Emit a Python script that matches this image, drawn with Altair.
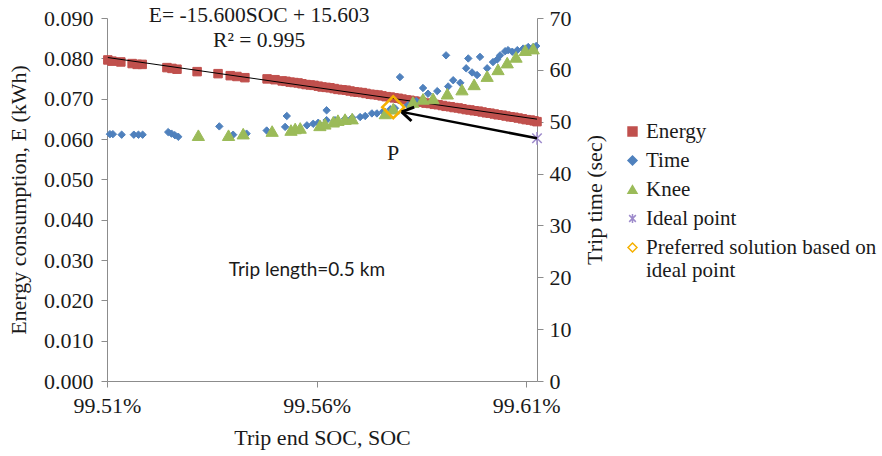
import altair as alt
import pandas as pd

# Energy consumption (kWh) of each solution against trip end SOC (%)
energy_soc = [99.5102, 99.5112, 99.5133, 99.5160, 99.5172, 99.5184, 99.5243, 99.5255,
              99.5267, 99.5315, 99.5365, 99.5394, 99.5410, 99.5429, 99.5482, 99.5501,
              99.5518, 99.5527, 99.5537, 99.5546, 99.5556, 99.5565, 99.5575, 99.5585,
              99.5594, 99.5604, 99.5613, 99.5623, 99.5632, 99.5642, 99.5651, 99.5661,
              99.5671, 99.5680, 99.5690, 99.5699, 99.5709, 99.5718, 99.5728, 99.5737,
              99.5747, 99.5756, 99.5766, 99.5776, 99.5785, 99.5795, 99.5804, 99.5814,
              99.5823, 99.5833, 99.5842, 99.5852, 99.5861, 99.5871, 99.5881, 99.5890,
              99.5900, 99.5909, 99.5919, 99.5928, 99.5938, 99.5947, 99.5957, 99.5966,
              99.5976, 99.5986, 99.5995, 99.6005, 99.6014, 99.6024, 99.6033, 99.6043,
              99.6052, 99.6062, 99.6071, 99.6081, 99.6091, 99.6100, 99.6110, 99.6119,
              99.6126]
energy_kwh = [0.0796, 0.0793, 0.0791, 0.0787, 0.0785, 0.0785, 0.0777, 0.0775,
              0.0773, 0.0767, 0.0762, 0.0757, 0.0755, 0.0752, 0.0749, 0.0747,
              0.0744, 0.0743, 0.0741, 0.0740, 0.0739, 0.0737, 0.0735, 0.0734,
              0.0733, 0.0731, 0.0729, 0.0728, 0.0727, 0.0725, 0.0723, 0.0722,
              0.0721, 0.0719, 0.0717, 0.0716, 0.0715, 0.0713, 0.0711, 0.0710,
              0.0709, 0.0707, 0.0705, 0.0704, 0.0702, 0.0701, 0.0699, 0.0697,
              0.0696, 0.0694, 0.0693, 0.0691, 0.0689, 0.0688, 0.0686, 0.0685,
              0.0683, 0.0681, 0.0680, 0.0678, 0.0677, 0.0675, 0.0673, 0.0672,
              0.0670, 0.0669, 0.0667, 0.0665, 0.0664, 0.0662, 0.0660, 0.0659,
              0.0657, 0.0655, 0.0654, 0.0652, 0.0650, 0.0648, 0.0647, 0.0645,
              0.0643]

# Trip time (sec) of each solution
time_soc = [99.5107, 99.5114, 99.5135, 99.5164, 99.5175, 99.5185, 99.5246, 99.5254,
            99.5262, 99.5270, 99.5368, 99.5401, 99.5433, 99.5481, 99.5525, 99.5529,
            99.5577, 99.5592, 99.5604, 99.5624, 99.5624, 99.5644, 99.5668, 99.5685,
            99.5704, 99.5716, 99.5732, 99.5744, 99.5759, 99.5776, 99.5787, 99.5799,
            99.5818, 99.5838, 99.5854, 99.5866, 99.5888, 99.5909, 99.5914, 99.5926,
            99.5943, 99.5957, 99.5962, 99.5971, 99.5983, 99.5990, 99.6007, 99.6021,
            99.6031, 99.6038, 99.6050, 99.6057, 99.6067, 99.6079, 99.6093, 99.6105,
            99.6117, 99.6124]
time_sec = [47.6, 47.6, 47.5, 47.5, 47.5, 47.5, 48.0, 47.7,
            47.4, 47.1, 49.1, 47.5, 47.7, 48.3, 49.0, 51.1,
            49.3, 49.6, 49.8, 52.2, 50.3, 50.3, 50.6, 50.8,
            50.9, 51.1, 51.6, 51.6, 52.0, 52.4, 52.6, 58.6,
            53.2, 54.0, 56.5, 55.4, 55.9, 62.8, 56.8, 58.0,
            57.5, 60.3, 62.2, 59.5, 59.0, 62.5, 60.3, 61.5,
            62.0, 62.8, 63.6, 63.8, 63.5, 63.8, 64.1, 64.4,
            64.4, 64.6]

# Knee solutions (sec)
knee_soc = [99.5318, 99.5390, 99.5425, 99.5494, 99.5539, 99.5549, 99.5561, 99.5608,
            99.5620, 99.5640, 99.5651, 99.5668, 99.5685, 99.5764, 99.5783, 99.5830,
            99.5854, 99.5878, 99.5912, 99.5947, 99.5976, 99.6007, 99.6033, 99.6055,
            99.6076, 99.6098, 99.6117]
knee_sec = [47.4, 47.4, 47.7, 48.2, 48.4, 48.7, 48.8, 49.3,
            49.6, 50.0, 50.3, 50.5, 50.6, 51.6, 52.5, 53.8,
            54.4, 54.5, 55.4, 56.2, 57.2, 58.8, 60.1, 61.4,
            62.5, 63.8, 64.1]

ideal_soc = [99.6126]
ideal_sec = [46.8]
pref_soc = [99.5783]
pref_sec = [52.8]

# Arrow from the ideal point to the preferred solution P
arrow_soc = [99.6126, 99.5803]
arrow_sec = [46.8, 51.9]

series_names = ["Energy", "Time", "Knee", "Ideal point",
                "Preferred solution based on ideal point"]
series_shapes = ["square", "diamond", "triangle-up",
                 "M-0.75,-0.75L0.75,0.75M-0.75,0.75L0.75,-0.75M0,-1L0,1", "diamond"]
series_fills = ["#C0504D", "#4F81BD", "#9BBB59", "transparent", "transparent"]
series_strokes = ["#C0504D", "#4F81BD", "#9BBB59", "#9D8ACB", "#F5B000"]

SERIF = "Liberation Serif"
LONG = series_names[-1]


def frame(soc, val, name):
    return pd.DataFrame({"soc": soc, "val": val, "series": name})


energy_df = frame(energy_soc, energy_kwh, "Energy")
time_df = frame(time_soc, time_sec, "Time")
knee_df = frame(knee_soc, knee_sec, "Knee")
ideal_df = frame(ideal_soc, ideal_sec, "Ideal point")
pref_df = frame(pref_soc, pref_sec, LONG)
arrow_df = pd.DataFrame({"soc": [arrow_soc[0]], "val": [arrow_sec[0]],
                         "soc2": [arrow_soc[1]], "val2": [arrow_sec[1]]})

x_enc = alt.X(
    "soc:Q",
    scale=alt.Scale(domain=[99.51, 99.6126], nice=False, zero=False),
    axis=alt.Axis(values=[99.51, 99.56, 99.61],
                  labelExpr="format(datum.value, '.2f') + '%'",
                  title="Trip end SOC, SOC", titlePadding=11, labelPadding=8,
                  labelFlush=False),
)
y_energy = alt.Y(
    "val:Q",
    scale=alt.Scale(domain=[0, 0.09], nice=False, zero=True),
    axis=alt.Axis(orient="left", values=[0, 0.01, 0.02, 0.03, 0.04, 0.05, 0.06, 0.07, 0.08, 0.09],
                  format=".3f", title="Energy consumption, E (kWh)",
                  titlePadding=13, labelPadding=8),
)
y_time = alt.Y(
    "val:Q",
    scale=alt.Scale(domain=[0, 70], nice=False, zero=True),
    axis=alt.Axis(orient="right", values=[0, 10, 20, 30, 40, 50, 60, 70], format="d",
                  title="Trip time  (sec)", titleAngle=-90, titleBaseline="top",
                  titlePadding=13, labelPadding=6),
)

legend = alt.Legend(
    title=None, orient="none", legendX=515, legendY=103,
    labelExpr=f"datum.label == '{LONG}' ? ['Preferred solution based on', 'ideal point'] : datum.label",
)
shape_enc = alt.Shape("series:N", scale=alt.Scale(domain=series_names, range=series_shapes), legend=legend)
fill_enc = alt.Fill("series:N", scale=alt.Scale(domain=series_names, range=series_fills), legend=legend)
stroke_enc = alt.Stroke("series:N", scale=alt.Scale(domain=series_names, range=series_strokes), legend=legend)


def points(df, y, size, sw=1.0):
    return alt.Chart(df).mark_point(size=size, opacity=1, strokeWidth=sw).encode(
        x=x_enc, y=y, shape=shape_enc, fill=fill_enc, stroke=stroke_enc
    )


energy_pts = points(energy_df, y_energy, 72)
trend = alt.Chart(energy_df).transform_regression("soc", "val").mark_line(
    color="#000000", strokeWidth=1
).encode(x="soc:Q", y="val:Q")

# Fitted equation and trip length annotations, placed in data units
eq_df = pd.DataFrame({
    "soc": [99.5463, 99.5463],
    "val": [0.0904, 0.0843],
    "label": ["E= -15.600SOC + 15.603", "R² = 0.995"],
})
eq_text = alt.Chart(eq_df).mark_text(font=SERIF, fontSize=21.5, color="#1a1a1a").encode(
    x="soc:Q", y="val:Q", text="label:N"
)
trip_df = pd.DataFrame({"soc": [99.5577], "val": [0.0275], "label": ["Trip length=0.5 km"]})
trip_text = alt.Chart(trip_df).mark_text(font="Lato", fontSize=19, color="#1a1a1a").encode(
    x="soc:Q", y="val:Q", text="label:N"
)

energy_layer = alt.layer(energy_pts, trend, eq_text, trip_text)

time_pts = points(time_df, y_time, 55)
knee_pts = points(knee_df, y_time, 150)
ideal_pt = points(ideal_df, y_time, 160, 1.5)
pref_pt = points(pref_df, y_time, 480, 2.6)

shaft = alt.Chart(arrow_df).mark_rule(color="#000000", strokeWidth=2.5).encode(
    x="soc:Q", y="val:Q", x2="soc2:Q", y2="val2:Q"
)
head = alt.Chart(arrow_df).mark_point(
    shape="M0,0L1,-0.62M0,0L1,0.62", size=520, angle=11, filled=False,
    stroke="#000000", strokeWidth=3, opacity=1,
).encode(x="soc2:Q", y="val2:Q")

p_df = pd.DataFrame({"soc": [99.5783], "val": [43.9], "label": ["P"]})
p_label = alt.Chart(p_df).mark_text(font=SERIF, fontSize=22, color="#1a1a1a").encode(
    x="soc:Q", y="val:Q", text="label:N"
)

time_layer = alt.layer(time_pts, knee_pts, ideal_pt, pref_pt, shaft, head, p_label)

chart = alt.layer(energy_layer, time_layer).resolve_scale(y="independent").properties(
    width=430, height=363,
    padding={"left": 107, "top": 18, "right": 345, "bottom": 75},
    autosize=alt.AutoSizeParams(type="none"),
).configure_view(stroke=None).configure_axis(
    labelFont=SERIF, labelFontSize=22, labelColor="#1a1a1a",
    titleFont=SERIF, titleFontSize=22, titleFontWeight="normal", titleColor="#1a1a1a",
    domainColor="#8c8c8c", tickColor="#8c8c8c", tickSize=6, grid=False,
).configure_legend(
    labelFont=SERIF, labelFontSize=21, labelColor="#1a1a1a", symbolSize=80,
    symbolStrokeWidth=1.5, symbolOpacity=1, rowPadding=7, labelOffset=3,
    padding=0, labelLimit=400,
)

chart.save("out.html", embed_options={"renderer": "svg", "actions": False})
